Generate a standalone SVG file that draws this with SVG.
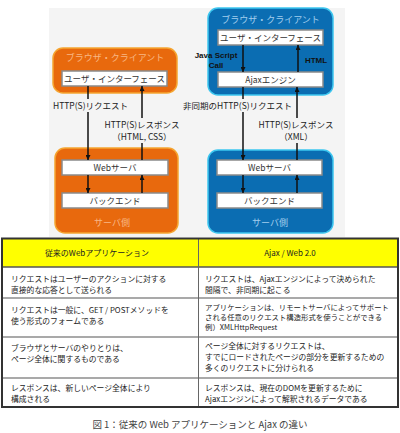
<svg xmlns="http://www.w3.org/2000/svg" width="400" height="433" viewBox="0 0 400 433">
<style>
.jp{font-family:"Noto Sans CJK JP","Noto Sans",sans-serif}
.lbl{font-size:8.5px;fill:#222}
.box{fill:#fff;stroke:#8a8a8a;stroke-width:1.5}
.btxt{font-size:8.5px;fill:#333;text-anchor:middle}
.org{fill:#e8690d;stroke:#f5a530;stroke-width:1.5}
.blu{fill:#0b6db2;stroke:#3cc6ef;stroke-width:1.5}
.ttl-o{font-size:9px;fill:#f8b784;text-anchor:middle}
.ttl-b{font-size:9px;fill:#a2cdee;text-anchor:middle}
.ln{stroke:#111;stroke-width:1.5;fill:none}
.bg{fill:#f4f4f4}
.bold{font-family:"Liberation Sans",Arial,sans-serif;font-weight:bold;font-size:8px;fill:#111;text-anchor:middle}
.tt{font-size:7.8px;fill:#222}
.ts{font-size:7.4px;fill:#222}
.th{font-size:8px;fill:#222;text-anchor:middle}
.cap{font-size:9.5px;fill:#444;text-anchor:middle}
</style>
<defs>
<marker id="ah" viewBox="0 0 10 10" refX="10" refY="5" markerWidth="5" markerHeight="5" orient="auto" markerUnits="userSpaceOnUse">
<path d="M0,0 L10,5 L0,10 z" fill="#111"/>
</marker>
</defs>
<rect x="49" y="8" width="296" height="229" fill="#f4f4f4"/>

<g id="left-browser">
<rect class="org" x="53" y="48" width="124" height="45" rx="10"/>
<text class="jp ttl-o" x="115" y="61">ブラウザ・クライアント</text>
</g>
<g id="left-ui">
<rect class="box" x="62" y="71" width="105" height="15"/>
<text class="jp btxt" x="114.5" y="81.5">ユーザ・インターフェース</text>
</g>
<g id="left-server">
<rect class="org" x="55" y="148" width="123" height="85" rx="10"/>
<text class="jp ttl-o" x="112" y="226">サーバ側</text>
</g>
<g id="left-web">
<rect class="box" x="62" y="160" width="106" height="15"/>
<text class="jp btxt" x="115" y="170.5">Webサーバ</text>
</g>
<g id="left-backend">
<rect class="box" x="62" y="193" width="106" height="15"/>
<text class="jp btxt" x="115" y="203.5">バックエンド</text>
</g>

<g id="right-browser">
<rect class="blu" x="208" y="8" width="125" height="87" rx="10"/>
<text class="jp ttl-b" x="270.5" y="23">ブラウザ・クライアント</text>
</g>
<g id="right-ui">
<rect class="box" x="218" y="30" width="105" height="15"/>
<text class="jp btxt" x="270.5" y="40.5">ユーザ・インターフェース</text>
</g>
<g id="right-ajax">
<rect class="box" x="218" y="72" width="105" height="15"/>
<text class="jp btxt" x="270.5" y="82.5">Ajaxエンジン</text>
</g>
<g id="right-server">
<rect class="blu" x="208" y="150" width="125" height="83" rx="10"/>
<text class="jp ttl-b" x="270" y="226">サーバ側</text>
</g>
<g id="right-web">
<rect class="box" x="217" y="160" width="105" height="15"/>
<text class="jp btxt" x="269.5" y="170.5">Webサーバ</text>
</g>
<g id="right-backend">
<rect class="box" x="217" y="193" width="105" height="15"/>
<text class="jp btxt" x="269.5" y="203.5">バックエンド</text>
</g>

<g id="connectors">
<line class="ln" x1="88" y1="86" x2="88" y2="160" marker-end="url(#ah)"/>
<line class="ln" x1="142" y1="160" x2="142" y2="86" marker-end="url(#ah)"/>
<line class="ln" x1="88" y1="175" x2="88" y2="193" marker-end="url(#ah)"/>
<line class="ln" x1="142" y1="193" x2="142" y2="175" marker-end="url(#ah)"/>
<line class="ln" x1="243" y1="45" x2="243" y2="72" marker-end="url(#ah)"/>
<line class="ln" x1="298" y1="72" x2="298" y2="45" marker-end="url(#ah)"/>
<line class="ln" x1="243" y1="87" x2="243" y2="160" marker-end="url(#ah)"/>
<line class="ln" x1="297" y1="160" x2="297" y2="87" marker-end="url(#ah)"/>
<line class="ln" x1="243" y1="175" x2="243" y2="193" marker-end="url(#ah)"/>
<line class="ln" x1="297" y1="193" x2="297" y2="175" marker-end="url(#ah)"/>
<rect class="bg" x="52" y="99" width="70" height="13"/>
<rect class="bg" x="104" y="118" width="76" height="25"/>
<rect class="bg" x="181" y="99" width="110" height="13"/>
<rect class="bg" x="258" y="118" width="78" height="25"/>
<text class="jp lbl" x="53" y="109">HTTP(S)リクエスト</text>
<text class="jp lbl" x="142" y="128" text-anchor="middle">HTTP(S)レスポンス</text>
<text class="jp lbl" x="142" y="140" text-anchor="middle">（HTML, CSS）</text>
<text class="jp lbl" x="183" y="109">非同期のHTTP(S)リクエスト</text>
<text class="jp lbl" x="296" y="128" text-anchor="middle">HTTP(S)レスポンス</text>
<text class="jp lbl" x="296" y="140" text-anchor="middle">（XML）</text>
<text class="bold" x="216" y="58">Java Script</text>
<text class="bold" x="216" y="68">Call</text>
<text class="bold" x="316" y="63">HTML</text>
</g>

<g id="table">
<rect x="2" y="238.5" width="396" height="28.5" fill="#ffff00"/>
<line x1="2" y1="267" x2="398" y2="267" stroke="#555" stroke-width="1.5"/>
<line x1="2" y1="298" x2="398" y2="298" stroke="#555" stroke-width="1.2"/>
<line x1="2" y1="337" x2="398" y2="337" stroke="#555" stroke-width="1.2"/>
<line x1="2" y1="378" x2="398" y2="378" stroke="#555" stroke-width="1.2"/>
<line x1="198.5" y1="238.5" x2="198.5" y2="407" stroke="#666" stroke-width="1"/>
<rect x="2" y="238.5" width="396" height="168.5" fill="none" stroke="#333" stroke-width="2"/>
<text class="jp th" x="97" y="256">従来のWebアプリケーション</text>
<text class="jp th" x="290" y="256">Ajax / Web 2.0</text>
<text class="jp tt" x="11" y="282">リクエストはユーザーのアクションに対する</text>
<text class="jp tt" x="11" y="293">直接的な応答として送られる</text>
<text class="jp tt" x="11" y="313">リクエストは一般に、GET / POSTメソッドを</text>
<text class="jp tt" x="11" y="324">使う形式のフォームである</text>
<text class="jp tt" x="11" y="351">ブラウザとサーバのやりとりは、</text>
<text class="jp tt" x="11" y="362">ページ全体に関するものである</text>
<text class="jp tt" x="11" y="391">レスポンスは、新しいページ全体により</text>
<text class="jp tt" x="11" y="402">構成される</text>
<text class="jp tt" x="205" y="282">リクエストは、Ajaxエンジンによって決められた</text>
<text class="jp tt" x="205" y="293">間隔で、非同期に起こる</text>
<text class="jp ts" x="205" y="310">アプリケーションは、リモートサーバによってサポート</text>
<text class="jp ts" x="205" y="320">される任意のリクエスト構造形式を使うことができる</text>
<text class="jp ts" x="205" y="330">例）XMLHttpRequest</text>
<text class="jp tt" x="205" y="349">ページ全体に対するリクエストは、</text>
<text class="jp tt" x="205" y="360">すでにロードされたページの部分を更新するための</text>
<text class="jp tt" x="205" y="371">多くのリクエストに分けられる</text>
<text class="jp tt" x="205" y="391">レスポンスは、現在のDOMを更新するために</text>
<text class="jp tt" x="205" y="402">Ajaxエンジンによって解釈されるデータである</text>
</g>
<text class="jp cap" x="200" y="428">図 1：従来の Web アプリケーションと Ajax の違い</text>
</svg>
